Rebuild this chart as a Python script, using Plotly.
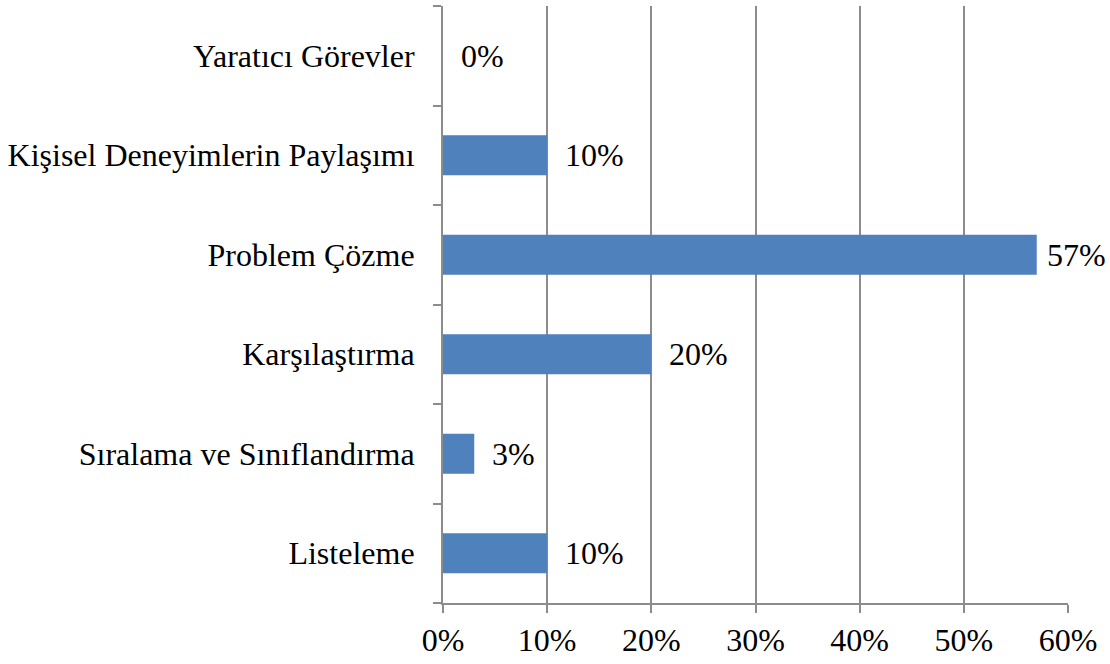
import plotly.graph_objects as go

# Task types (bottom to top) and their share of responses
categories = [
    "Listeleme",
    "Sıralama ve Sınıflandırma",
    "Karşılaştırma",
    "Problem Çözme",
    "Kişisel Deneyimlerin Paylaşımı",
    "Yaratıcı Görevler",
]
shares = [10, 3, 20, 57, 10, 0]
x_ticks = [0, 10, 20, 30, 40, 50, 60]
x_tick_labels = ["0%", "10%", "20%", "30%", "40%", "50%", "60%"]

FONT = "Liberation Serif"
AXIS_GREY = "#8c8c8c"
FONT_SIZE = 32

fig = go.Figure(
    go.Bar(
        x=shares,
        y=categories,
        orientation="h",
        marker=dict(color="#4f81bd", line=dict(width=0)),
        width=0.4,
        hoverinfo="skip",
    )
)

# Value labels to the right of each bar; the longest bar's label sits
# closer so it stays inside the page
for cat, val in zip(categories, shares):
    fig.add_annotation(
        x=val, y=cat, text=f"{val}%", showarrow=False,
        xanchor="left", yanchor="middle",
        xshift=8 if val == max(shares) else 16,
        font=dict(family=FONT, size=FONT_SIZE, color="black"),
    )

fig.update_layout(
    width=1110, height=664,
    margin=dict(l=443, r=42, t=6, b=61),
    paper_bgcolor="white", plot_bgcolor="white",
    showlegend=False,
    font=dict(family=FONT, size=FONT_SIZE, color="black"),
)
fig.update_xaxes(
    range=[0, 60],
    tickvals=x_ticks, ticktext=x_tick_labels,
    tickfont=dict(family=FONT, size=FONT_SIZE, color="black"),
    showgrid=True, gridcolor=AXIS_GREY, gridwidth=2,
    showline=True, linecolor=AXIS_GREY, linewidth=2,
    ticks="outside", ticklen=8, tickwidth=2, tickcolor=AXIS_GREY,
    ticklabelstandoff=0,
    zeroline=False,
    automargin=False,
)
fig.update_yaxes(
    type="category", categoryorder="array", categoryarray=categories,
    range=[-0.5, 5.5],
    tickfont=dict(family=FONT, size=FONT_SIZE, color="black"),
    showgrid=False,
    showline=True, linecolor=AXIS_GREY, linewidth=2,
    ticks="outside", tickson="boundaries", ticklen=8, tickwidth=2, tickcolor=AXIS_GREY,
    ticklabelstandoff=20,
    automargin=False,
)

fig.write_html("out.html")
